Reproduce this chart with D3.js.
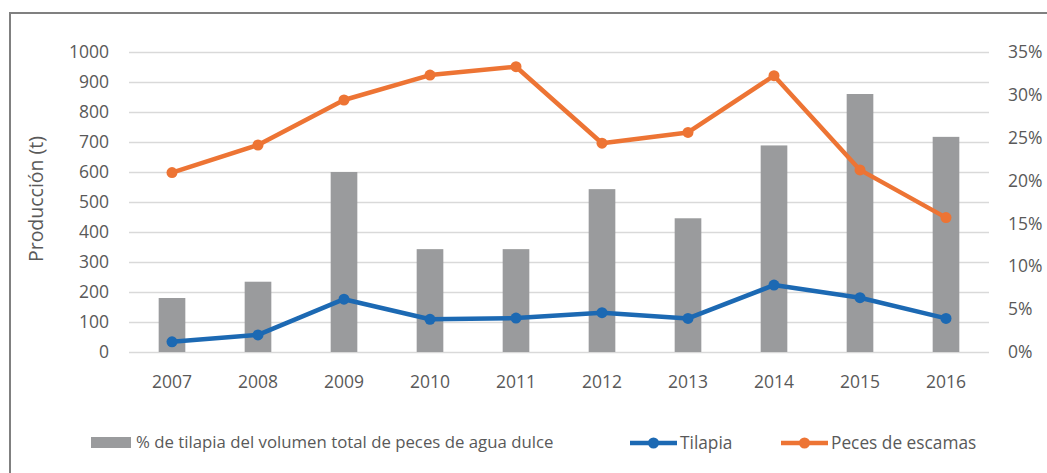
<!DOCTYPE html>
<html>
<head>
<meta charset="utf-8">
<script src="https://cdn.jsdelivr.net/npm/d3@7"></script>
<style>
  body { margin: 0; background: #fff; }
  text { font-family: "Open Sans", sans-serif; fill: #595959; }
</style>
</head>
<body>
<div id="chart"></div>
<script>
var years = ["2007","2008","2009","2010","2011","2012","2013","2014","2015","2016"]
// % of tilapia in total freshwater fish volume (right axis)
var pctTilapia = [6.3, 8.2, 21.0, 12.0, 12.0, 19.0, 15.6, 24.1, 30.1, 25.1]
// production (t), left axis
var tilapia = [34, 57, 176, 109, 113, 131, 112, 223, 181, 112]
var escamas = [598, 690, 840, 923, 951, 696, 732, 921, 607, 448]
var leftTicks = [0,100,200,300,400,500,600,700,800,900,1000]
var rightTicks = [0,5,10,15,20,25,30,35]

var width = 1047, height = 473
var plot = { left: 129, right: 989, top: 52, bottom: 352 }
var blue = "#1c69b3", orange = "#ed7434", barColor = "#9a9b9d"

var svg = d3.select("#chart").append("svg")
    .attr("width", width)
    .attr("height", height)

svg.append("rect").attr("width", width).attr("height", height).attr("fill", "#fff")

// outer frame (only top/left visible in the crop)
svg.append("path")
    .attr("d", "M10," + height + "V13H" + width)
    .attr("fill", "none")
    .attr("stroke", "#808080")
    .attr("stroke-width", 2)

var x = d3.scaleBand().domain(years)
    .range([plot.left, plot.right])
    .paddingInner(0.69).paddingOuter(0.345)
var yL = d3.scaleLinear().domain([0, 1000]).range([plot.bottom, plot.top])
var yR = d3.scaleLinear().domain([0, 35]).range([plot.bottom, plot.top])
var cx = function(d) { return x(d) + x.bandwidth() / 2 }

// gridlines
var grid = svg.append("g")
    .attr("transform", "translate(" + plot.left + ",0)")
    .call(d3.axisLeft(yL).tickValues(leftTicks).tickSize(-(plot.right - plot.left)).tickFormat(""))
grid.select(".domain").remove()
grid.selectAll("line").attr("stroke", "#d9d9d9").attr("stroke-width", 1.3)

// left axis labels
var gl = svg.append("g")
    .attr("transform", "translate(109,0)")
    .call(d3.axisLeft(yL).tickValues(leftTicks).tickSize(0).tickPadding(0).tickFormat(d3.format("d")))
gl.select(".domain").remove()
gl.selectAll("text").style("font-size", "17.5px").style("fill", "#595959")

// right axis labels
var gr = svg.append("g")
    .attr("transform", "translate(1008,0)")
    .call(d3.axisRight(yR).tickValues(rightTicks).tickSize(0).tickPadding(0).tickFormat(function(d) { return d + "%" }))
gr.select(".domain").remove()
gr.selectAll("text").style("font-size", "17.5px").style("fill", "#595959")

// x axis labels
var gx = svg.append("g")
    .attr("transform", "translate(0,376)")
    .call(d3.axisBottom(x).tickSize(0).tickPadding(0))
gx.select(".domain").remove()
gx.selectAll("text").style("font-size", "17.5px").style("fill", "#595959")

// y title
svg.append("text")
    .attr("transform", "translate(43,199) rotate(-90)")
    .attr("text-anchor", "middle")
    .style("font-size", "19.5px")
    .text("Producción (t)")

// bars
svg.selectAll(".bar").data(pctTilapia)
  .enter().append("rect")
    .attr("class", "bar")
    .attr("x", function(d, i) { return x(years[i]) })
    .attr("width", x.bandwidth())
    .attr("y", function(d) { return yR(d) })
    .attr("height", function(d) { return plot.bottom - yR(d) })
    .attr("fill", barColor)

function drawSeries(vals, color) {
  var line = d3.line()
      .x(function(d, i) { return cx(years[i]) })
      .y(function(d) { return yL(d) })
  svg.append("path")
      .datum(vals)
      .attr("d", line)
      .attr("fill", "none")
      .attr("stroke", color)
      .attr("stroke-width", 4.5)
      .attr("stroke-linejoin", "round")
  svg.selectAll(null).data(vals)
    .enter().append("circle")
      .attr("cx", function(d, i) { return cx(years[i]) })
      .attr("cy", function(d) { return yL(d) })
      .attr("r", 5.5)
      .attr("fill", color)
}
drawSeries(tilapia, blue)
drawSeries(escamas, orange)

// legend
var lg = svg.append("g")
lg.append("rect").attr("x", 91).attr("y", 437).attr("width", 40).attr("height", 11).attr("fill", barColor)
lg.append("text").attr("x", 136).attr("y", 448).style("font-size", "16.8px")
    .text("% de tilapia del volumen total de peces de agua dulce")

var lineItems = [
  { name: "Tilapia", color: blue, x0: 630 },
  { name: "Peces de escamas", color: orange, x0: 781 }
]
lineItems.forEach(function(it) {
  lg.append("line").attr("x1", it.x0).attr("x2", it.x0 + 47)
      .attr("y1", 443).attr("y2", 443)
      .attr("stroke", it.color).attr("stroke-width", 4.5)
  lg.append("circle").attr("cx", it.x0 + 23.5).attr("cy", 443).attr("r", 5.5).attr("fill", it.color)
  lg.append("text").attr("x", it.x0 + 50).attr("y", 449).style("font-size", "17.3px").text(it.name)
})
</script>
</body>
</html>
